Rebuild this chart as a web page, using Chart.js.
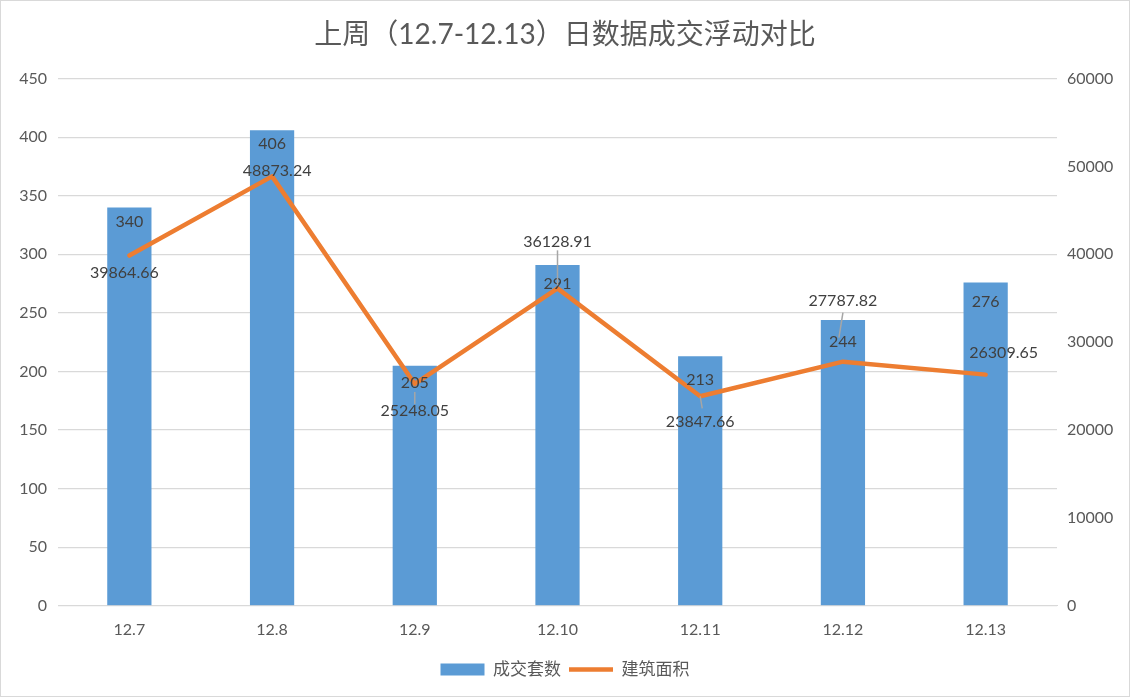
<!DOCTYPE html>
<html><head><meta charset="utf-8">
<script src="https://cdn.jsdelivr.net/npm/chart.js@4/dist/chart.umd.min.js"></script>
<style>
html,body{margin:0;padding:0;background:#fff;}
#wrap{width:1128px;height:695px;border:1px solid #D9D9D9;position:relative;}
</style></head><body>
<div id="wrap"><canvas id="c" width="1128" height="695"></canvas></div>
<script>
const categories = ['12.7','12.8','12.9','12.10','12.11','12.12','12.13'];
const units = [340, 406, 205, 291, 213, 244, 276];
const area = [39864.66, 48873.24, 25248.05, 36128.91, 23847.66, 27787.82, 26309.65];
const title = '上周（12.7-12.13）日数据成交浮动对比';
const seriesNames = ['成交套数', '建筑面积'];

const FONT = "Lato, 'Noto Sans CJK SC', sans-serif";
const TXT = '#595959';

// label placement (pixel offsets from the mark)
const barLabelDy = [14, 14, 17, 19, 24, 22, 19];
const lineLabelOff = [[-5,17],[5,-6],[0,27],[0,-47],[0,26],[0,-61],[18,-22]];
const leader = [null,null,[0,8,0,20],[0,-38,0,-3],[0,0,2,12],[0,-49,-4,-24],null];

const labelPlugin = {
  id:'labels',
  afterDatasetsDraw(chart){
    const ctx = chart.ctx;
    ctx.save();
    ctx.font = "16px " + FONT;
    ctx.fillStyle = '#404040';
    ctx.textAlign = 'center';
    ctx.textBaseline = 'middle';
    const bm = chart.getDatasetMeta(0).data;
    bm.forEach((b,i)=>{
      ctx.fillText(String(units[i]), b.x, b.y + barLabelDy[i]);
    });
    const lm = chart.getDatasetMeta(1).data;
    ctx.strokeStyle = '#A6A6A6';
    ctx.lineWidth = 1.5;
    lm.forEach((p,i)=>{
      const l = leader[i];
      if (l){
        ctx.beginPath();
        ctx.moveTo(p.x + l[0], p.y + l[1]);
        ctx.lineTo(p.x + l[2], p.y + l[3]);
        ctx.stroke();
      }
    });
    lm.forEach((p,i)=>{
      const o = lineLabelOff[i];
      ctx.fillText(area[i].toFixed(2), p.x + o[0], p.y + o[1]);
    });
    ctx.restore();
  }
};

new Chart(document.getElementById('c'), {
  data: {
    labels: categories,
    datasets: [
      { type:'bar', label: seriesNames[0], data: units, yAxisID:'y',
        backgroundColor:'#5B9BD5', borderWidth:0,
        categoryPercentage:1, barPercentage:0.31, order:2 },
      { type:'line', label: seriesNames[1], data: area, yAxisID:'y1',
        borderColor:'#ED7D31', backgroundColor:'#ED7D31', borderWidth:4.5,
        pointRadius:0, tension:0, order:1, borderCapStyle:'round', borderJoinStyle:'round' }
    ]
  },
  options: {
    responsive:false, animation:false,
    layout:{ padding:{ left:0, right:0, top:0, bottom:8 } },
    plugins:{
      title:{ display:true, text:title, color:TXT,
        font:{ family:FONT, size:28, weight:'normal' }, padding:{ top:17, bottom:27 } },
      legend:{ position:'bottom',
        labels:{ color:TXT, font:{ family:FONT, size:17 }, usePointStyle:true,
          pointStyleWidth:44, boxHeight:12, padding:8,
          generateLabels(chart){
            const items = Chart.defaults.plugins.legend.labels.generateLabels(chart)
              .sort((a,b)=>a.datasetIndex-b.datasetIndex);
            items[0].pointStyle = 'rect'; items[0].lineWidth = 0;
            items[0].fillStyle = '#5B9BD5'; items[0].strokeStyle = '#5B9BD5';
            items[1].pointStyle = 'line'; items[1].lineWidth = 4.5; items[1].strokeStyle = '#ED7D31';
            return items;
          } } },
      tooltip:{ enabled:false }
    },
    scales:{
      x:{ grid:{ display:false, drawTicks:false }, border:{ display:true, color:'#D9D9D9', width:1 },
        ticks:{ color:TXT, font:{ family:FONT, size:16 }, padding:14 } },
      y:{ position:'left', min:0, max:450,
        ticks:{ stepSize:50, color:TXT, font:{ family:FONT, size:16 }, padding:11 },
        grid:{ color:'#D9D9D9', drawTicks:false, lineWidth:1.2 }, border:{ display:false },
        afterFit(s){ s.width = 57; } },
      y1:{ position:'right', min:0, max:60000,
        ticks:{ stepSize:10000, color:TXT, font:{ family:FONT, size:16 }, padding:10,
          callback:(v)=>String(v) },
        grid:{ display:false, drawTicks:false }, border:{ display:false },
        afterFit(s){ s.width = 72; } }
    }
  },
  plugins:[labelPlugin]
});
</script></body></html>
